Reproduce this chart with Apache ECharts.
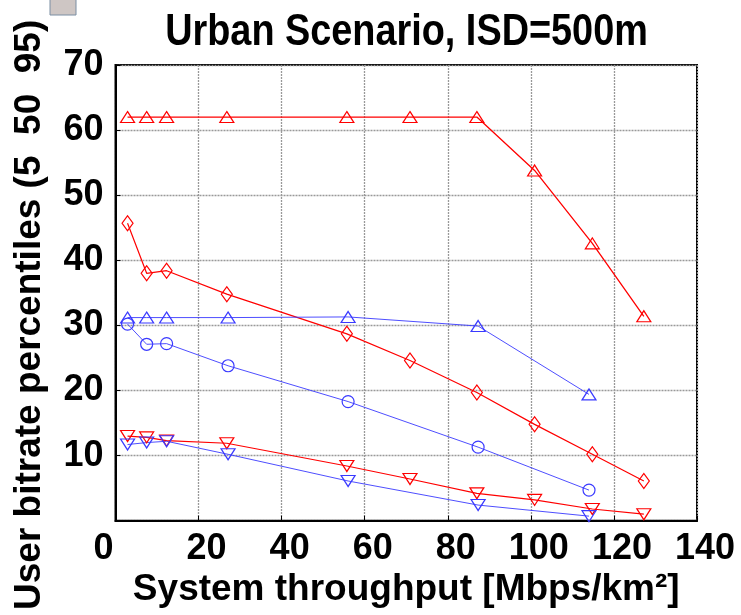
<!DOCTYPE html>
<html>
<head>
<meta charset="utf-8">
<script src="https://cdn.jsdelivr.net/npm/echarts@6/dist/echarts.min.js"></script>
<style>html,body{margin:0;padding:0;background:#fff;}#c{width:741px;height:615px;}</style>
</head>
<body>
<div id="c"></div>
<script>
// ---- data ----
var titleText = 'Urban Scenario, ISD=500m';
var xAxisTitle = 'System throughput [Mbps/km\u00B2]';
var yAxisTitle = 'User bitrate percentiles (5  50  95)';
var xTicks = [0, 20, 40, 60, 80, 100, 120, 140];
var yTicks = [0, 10, 20, 30, 40, 50, 60, 70];

var redX   = [2.9, 7.5, 12.3, 26.8, 55.7, 70.9, 87.0, 100.9, 114.8, 127.2];
var red95  = [62.0, 62.0, 62.0, 62.0, 62.0, 62.0, 62.0, 53.8, 42.6, 31.4];
var red50  = [45.7, 38.0, 38.4, 34.8, 28.7, 24.6, 19.7, 14.8, 10.2, 6.1];
var red5   = [13.0, 12.8, 12.3, 11.9, 8.4, 6.4, 4.2, 3.2, 1.8, 1.0];

var blueX  = [2.9, 7.5, 12.3, 27.1, 56.0, 87.3, 114.0];
var blue95 = [31.2, 31.2, 31.2, 31.2, 31.3, 29.9, 19.4];
var blue50 = [30.2, 27.1, 27.2, 23.8, 18.3, 11.3, 4.7];
var blue5  = [11.7, 12.0, 12.2, 10.2, 6.1, 2.4, 0.7];

function pairs(xs, ys) { return xs.map(function (x, i) { return [x, ys[i]]; }); }

var FONT = '"Liberation Sans", Arial, sans-serif';

function mk(name, xs, ys, color, symbol, size, rotate, lw) {
  return {
    name: name, type: 'line', data: pairs(xs, ys),
    symbol: symbol, symbolSize: size, symbolRotate: rotate || 0,
    showSymbol: true,
    lineStyle: { color: color, width: lw },
    itemStyle: { color: 'rgba(255,255,255,0)', borderColor: color, borderWidth: 1.2 },
    emphasis: { disabled: true },
    z: 3
  };
}

var chart = echarts.init(document.getElementById('c'), null, { renderer: 'canvas' });
chart.setOption({
  animation: false,
  backgroundColor: '#ffffff',
  grid: { left: 115.5, right: 44, top: 65, bottom: 94.3, show: true, borderColor: '#000', borderWidth: 2, backgroundColor: 'transparent' },
  xAxis: {
    type: 'value', min: xTicks[0], max: xTicks[xTicks.length - 1], interval: 20,
    name: xAxisTitle, nameLocation: 'middle', nameGap: 44,
    nameTextStyle: { fontFamily: FONT, fontWeight: 'bold', fontSize: 37, color: '#000' },
    axisLine: { show: true, lineStyle: { color: '#000', width: 2 } },
    axisTick: { show: true, inside: true, length: 5, lineStyle: { color: '#000' } },
    splitLine: { show: true, lineStyle: { color: '#999999', type: [2, 1], width: 1.3 } },
    axisLabel: {
      margin: 10, fontFamily: FONT, fontWeight: 'bold', fontSize: 36, color: '#000',
      formatter: function (v) { return v === 0 ? '{z|0}' : '{n|' + v + '}'; },
      rich: {
        z: { fontFamily: FONT, fontWeight: 'bold', fontSize: 36, color: '#000', padding: [0, 24, 0, 0] },
        n: { fontFamily: FONT, fontWeight: 'bold', fontSize: 36, color: '#000', padding: [0, 0, 0, 16] }
      }
    }
  },
  yAxis: {
    type: 'value', min: yTicks[0], max: yTicks[yTicks.length - 1], interval: 10,
    name: yAxisTitle, nameLocation: 'middle', nameGap: 67, nameRotate: 90,
    nameTextStyle: { fontFamily: FONT, fontWeight: 'bold', fontSize: 37, color: '#000', padding: [0, 44, 0, 0] },
    axisLine: { show: true, lineStyle: { color: '#000', width: 2 } },
    axisTick: { show: true, inside: true, length: 5, lineStyle: { color: '#000' } },
    splitLine: { show: true, lineStyle: { color: '#999999', type: [2, 1], width: 1.3 } },
    axisLabel: {
      margin: 12, fontFamily: FONT, fontWeight: 'bold', fontSize: 36, color: '#000',
      formatter: function (v) { return v === 0 ? '' : String(v); }
    }
  },
  graphic: [
    { type: 'rect', shape: { x: 50, y: -2, width: 26, height: 17 }, style: { fill: '#cec6c4', stroke: '#7b8ea3', lineWidth: 1 }, z: 10 },
    { type: 'text', x: 406.5, y: 33, scaleX: 0.86, scaleY: 1,
      style: { text: titleText, font: 'bold 44px "Liberation Sans", Arial, sans-serif', fill: '#000', align: 'center', verticalAlign: 'middle' }, z: 10 }
  ],
  series: [
    mk('red95', redX, red95, '#ff0000', 'triangle', [14, 11], 0, 1.3),
    mk('red50', redX, red50, '#ff0000', 'diamond', [11, 15], 0, 1.2),
    mk('red5', redX, red5, '#ff0000', 'triangle', [14, 11], 180, 1.2),
    mk('blue95', blueX, blue95, '#3a3aff', 'triangle', [14, 11], 0, 0.9),
    mk('blue50', blueX, blue50, '#3a3aff', 'circle', 12, 0, 0.9),
    mk('blue5', blueX, blue5, '#3a3aff', 'triangle', [14, 11], 180, 0.9)
  ]
});
</script>
</body>
</html>
